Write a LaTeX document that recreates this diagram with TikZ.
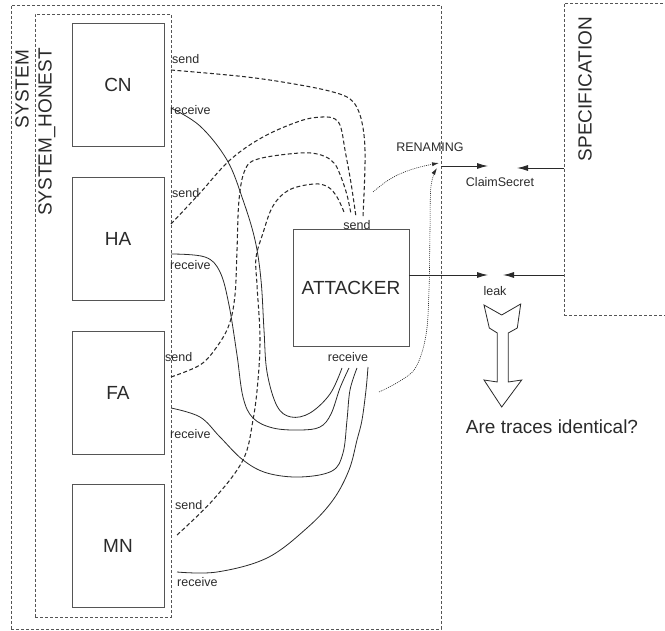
\documentclass[tikz,border=0pt]{standalone}
\usepackage{fontspec}
\setmainfont{Liberation Sans}
\usetikzlibrary{arrows.meta}
\definecolor{ink}{HTML}{2A2A2A}
\definecolor{boxline}{HTML}{555555}
\tikzset{
  agentbox/.style={draw=boxline, line width=0.9pt, minimum width=92pt, minimum height=123pt, inner sep=0pt, text=ink, font=\fontsize{19}{22}\selectfont},
  groupbox/.style={draw=boxline, line width=0.8pt, dash pattern=on 3pt off 2pt, inner sep=0pt},
  bigtxt/.style={text=ink, font=\fontsize{19}{22}\selectfont, inner sep=0pt},
  smalltxt/.style={text=ink, font=\fontsize{12.5}{14}\selectfont, inner sep=0pt},
  sendline/.style={draw=ink, line width=1.05pt, dash pattern=on 4pt off 2.5pt},
  recvline/.style={draw=ink, line width=0.8pt},
  dotline/.style={draw=ink, line width=0.6pt, dash pattern=on 1pt off 1pt},
  tip/.style={-{Latex[length=11pt,width=6pt]}},
  smalltip/.style={-{Latex[length=7pt,width=4pt]}}
}
\begin{document}
\begin{tikzpicture}[x=1pt,y=-1pt]
\useasboundingbox (0,0) rectangle (665,631);
% groups
\node[groupbox, minimum width=430pt, minimum height=624pt] (system) at (226,317) {};
\node[groupbox, minimum width=136pt, minimum height=603pt] (honest) at (103,315.5) {};
\node[groupbox, minimum width=136pt, minimum height=312pt] (spec) at (632,159) {};
\node[bigtxt, rotate=90] (systemlbl) at (22,89) {SYSTEM};
\node[bigtxt, rotate=90] (honestlbl) at (47,132) {SYSTEM\_HONEST};
\node[bigtxt, rotate=90] (speclbl) at (585,89) {SPECIFICATION};
% agents
\node[agentbox] (CN) at (118,84.5) {CN};
\node[agentbox] (HA) at (118,238.5) {HA};
\node[agentbox] (FA) at (118,392.5) {FA};
\node[agentbox] (MN) at (118,546) {MN};
\node[agentbox, minimum width=116pt, minimum height=117pt] (ATT) at (351,287.5) {ATTACKER};
% port labels
\node[smalltxt, anchor=west] (cnsl) at (172,59) {send};
\node[smalltxt, anchor=west] (cnrl) at (170,110) {receive};
\node[smalltxt, anchor=west] (hasl) at (172,193) {send};
\node[smalltxt, anchor=west] (harl) at (170,265) {receive};
\node[smalltxt, anchor=west] (fasl) at (165,357) {send};
\node[smalltxt, anchor=west] (farl) at (170,434) {receive};
\node[smalltxt, anchor=west] (mnsl) at (175,505) {send};
\node[smalltxt, anchor=west] (mnrl) at (177,582) {receive};
\node[smalltxt] (atsl) at (357,225) {send};
\node[smalltxt] (atrl) at (348,357) {receive};
% ports
\coordinate (cnS) at (171,70);
\coordinate (cnR) at (171,108);
\coordinate (haS) at (171,224);
\coordinate (haR) at (171,254);
\coordinate (faS) at (171,377);
\coordinate (faR) at (171,408);
\coordinate (mnS) at (177,535);
\coordinate (mnR) at (177,572);
\coordinate (aS1) at (363,217);
\coordinate (aS2) at (356,217);
\coordinate (aS3) at (351,214);
\coordinate (aS4) at (344,212);
\coordinate (aR1) at (342,368);
\coordinate (aR2) at (349,368);
\coordinate (aR3) at (357,368);
\coordinate (aR4) at (368,367);
\coordinate (aSd) at (373,192);
\coordinate (aRd) at (379,392);
% send curves (dashed)
\draw[sendline] plot[smooth, tension=0.6] coordinates {(cnS) (247,77) (300,85) (333,92) (350,99) (359,112) (364,135) (365,165) (aS1)};
\draw[sendline] plot[smooth, tension=0.6] coordinates {(haS) (200,193) (230,160) (263,137) (300,121) (322,117) (335,119) (341,128) (345,150) (351,183) (aS2)};
\draw[sendline] plot[smooth, tension=0.6] coordinates {(faS) (200,365) (216,348) (229,325) (235,295) (237,250) (239,200) (245,170) (258,159) (300,153) (321,155) (334,163) (341,177) (347,195) (aS3)};
\draw[sendline] plot[smooth, tension=0.6] coordinates {(mnS) (213,500) (243,460) (253,420) (258,380) (260,337) (257,285) (256,258) (263,233) (273,206) (289,190) (314,184) (328,187) (337,197) (aS4)};
% receive curves (solid)
\draw[recvline] plot[smooth, tension=0.6] coordinates {(cnR) (200,126) (227,160) (243,200) (255,240) (261,280) (264,330) (267,372) (277,406) (291,417) (310,413) (330,394) (aR1)};
\draw[recvline] plot[smooth, tension=0.6] coordinates {(haR) (205,257) (220,272) (229,305) (237,355) (243,397) (253,418) (273,428) (300,430) (320,427) (331,414) (340,388) (aR2)};
\draw[recvline] plot[smooth, tension=0.6] coordinates {(faR) (200,417) (220,437) (243,460) (267,473) (300,477) (332,471) (343,453) (347,420) (350,390) (aR3)};
\draw[recvline] plot[smooth, tension=0.6] coordinates {(mnR) (217,572) (267,558) (307,528) (333,500) (349,470) (357,440) (362,420) (366,390) (aR4)};
% renaming
\node[smalltxt] (ren) at (430,147) {RENAMING};
\coordinate (renIn) at (439,163);
\coordinate (renIn2) at (437,168);
\draw[dotline, smalltip] plot[smooth, tension=0.6] coordinates {(aSd) (387,181) (402,173) (420,167) (renIn)};
\draw[dotline, smalltip] plot[smooth, tension=0.6] coordinates {(aRd) (400,381) (416,367) (426,335) (429,290) (430,230) (431,186) (renIn2)};
% claim secret
\node[smalltxt] (claim) at (500,182) {ClaimSecret};
\coordinate (cl1) at (441,166);
\coordinate (cl2) at (488,166);
\coordinate (cl3) at (517,168);
\coordinate (specC) at (spec.west |- cl3);
\draw[draw=ink, line width=0.9pt, tip] (cl1) -- (cl2);
\draw[draw=ink, line width=0.9pt, tip] (specC) -- (cl3);
% leak
\node[smalltxt] (leak) at (495,291) {leak};
\coordinate (lk1) at (488,275);
\coordinate (lk2) at (503,275);
\draw[draw=ink, line width=0.9pt, tip] (ATT.east |- lk1) -- (lk1);
\draw[draw=ink, line width=0.9pt, tip] (spec.west |- lk2) -- (lk2);
% hollow arrow
\draw[draw=ink, line width=0.8pt, fill=white] (484,305) -- (501.7,315) -- (520.7,304) -- (517.3,328) -- (508.3,333) -- (508.3,382) -- (521.7,380) -- (501.7,407) -- (484,380) -- (497.3,382) -- (497.3,333) -- (489.3,328) -- cycle;
\node[bigtxt] (question) at (552,427) {Are traces identical?};
\end{tikzpicture}
\end{document}
